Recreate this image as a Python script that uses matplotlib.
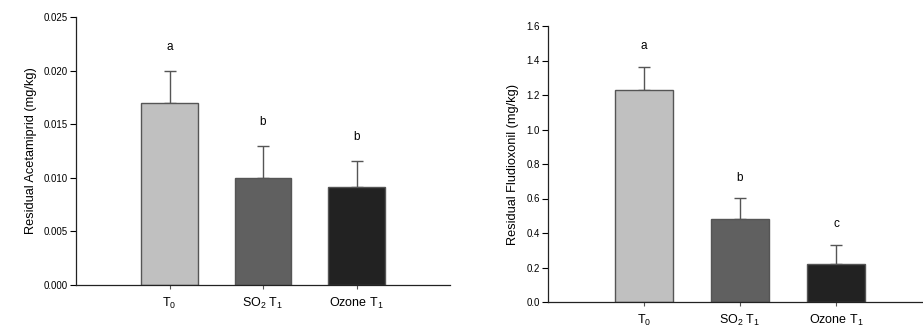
import matplotlib
matplotlib.use("Agg")
import matplotlib.pyplot as plt
import numpy as np

plt.rcParams["font.family"] = ["Liberation Sans", "DejaVu Sans"]
plt.rcParams["mathtext.fontset"] = "custom"
plt.rcParams["mathtext.rm"] = "Liberation Sans"
plt.rcParams["mathtext.it"] = "Liberation Sans:italic"
plt.rcParams["mathtext.default"] = "rm"

CATEGORIES = [r"T$_0$", r"SO$_2$ T$_1$", r"Ozone T$_1$"]
BAR_COLORS = ["#c0c0c0", "#606060", "#222222"]

ACETAMIPRID = [0.0170, 0.0100, 0.0091]
ACETAMIPRID_ERR = [0.0030, 0.0030, 0.0025]
ACETAMIPRID_LETTERS = ["a", "b", "b"]

FLUDIOXONIL = [1.227, 0.480, 0.220]
FLUDIOXONIL_ERR = [0.137, 0.121, 0.110]
FLUDIOXONIL_LETTERS = ["a", "b", "c"]

W, H = 923, 326


def draw_panel(ax, values, errors, letters, ylabel, ylim, yticks, fmt, letter_gap):
    x = np.arange(len(values))
    ax.errorbar(x, values, yerr=[np.zeros(len(errors)), errors], fmt="none",
                ecolor="#555555", elinewidth=1.0, capsize=4, capthick=1.0, zorder=1)
    ax.bar(x, values, width=0.6, color=BAR_COLORS, edgecolor="#555555",
           linewidth=1.0, zorder=2)
    for xi, v, e, lab in zip(x, values, errors, letters):
        ax.text(xi, v + e + letter_gap, lab, ha="center", va="center", fontsize=8.5)
    ax.set_xlim(-1, 3)
    ax.set_ylim(*ylim)
    ax.set_yticks(yticks)
    ax.set_yticklabels([fmt.format(t) for t in yticks], fontsize=7)
    ax.set_xticks(x)
    ax.set_xticklabels(CATEGORIES, fontsize=9)
    ax.set_ylabel(ylabel, fontsize=9.2, labelpad=5)
    for side in ("top", "right"):
        ax.spines[side].set_visible(False)
    for side in ("left", "bottom"):
        ax.spines[side].set_linewidth(0.9)
        ax.spines[side].set_color("#222222")
    ax.tick_params(axis="y", direction="out", length=4, width=0.8, pad=2)
    ax.tick_params(axis="x", direction="out", length=3, width=0.8, pad=5,
                   color="#555555")


fig = plt.figure(figsize=(W / 100, H / 100), dpi=100)
ax1 = fig.add_axes([76 / W, (H - 285) / H, 374 / W, 268 / H])
ax2 = fig.add_axes([548 / W, (H - 302) / H, 384 / W, 276 / H])

draw_panel(ax1, ACETAMIPRID, ACETAMIPRID_ERR, ACETAMIPRID_LETTERS,
           "Residual Acetamiprid (mg/kg)", (0, 0.025),
           [0.0, 0.005, 0.010, 0.015, 0.020, 0.025], "{:.3f}", 0.0022)
draw_panel(ax2, FLUDIOXONIL, FLUDIOXONIL_ERR, FLUDIOXONIL_LETTERS,
           "Residual Fludioxonil (mg/kg)", (0, 1.6),
           [0.0, 0.2, 0.4, 0.6, 0.8, 1.0, 1.2, 1.4, 1.6], "{:.1f}", 0.12)

fig.savefig("out.png", dpi=100)
